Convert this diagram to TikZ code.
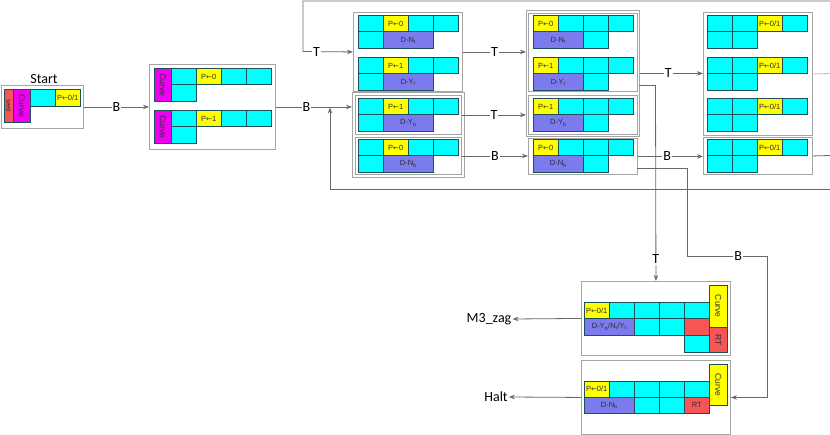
\documentclass[tikz,border=0pt]{standalone}
\usepackage{fontspec}
\usepackage{graphicx}
\usetikzlibrary{arrows.meta}
\setmainfont{Carlito}
\newfontfamily\cellff{Liberation Sans}
\newfontfamily\arrff{DejaVu Sans}
\definecolor{cyanc}{RGB}{0,255,255}
\definecolor{yelc}{RGB}{255,255,0}
\definecolor{magc}{RGB}{240,0,240}
\definecolor{purc}{RGB}{123,123,238}
\definecolor{redc}{RGB}{245,85,85}
\definecolor{cellline}{RGB}{30,80,90}
\definecolor{boxgray}{RGB}{165,165,165}
\definecolor{conngray}{RGB}{105,105,105}
\definecolor{lightconn}{RGB}{190,190,190}
\definecolor{celltext}{RGB}{45,45,55}
\tikzset{
  cellbase/.style={draw=cellline,line width=0.5pt,inner sep=0pt,text=celltext,font=\cellff\fontsize{7.5}{8}\selectfont},
  cy/.style={fill=cyanc},
  ye/.style={fill=yelc},
  ma/.style={fill=magc},
  pu/.style={fill=purc},
  re/.style={fill=redc},
  outbox/.style={draw=boxgray,line width=0.9pt,inner sep=0pt},
  conn/.style={draw=conngray,line width=0.8pt},
  lconn/.style={draw=lightconn,line width=0.8pt},
  arr/.style={conn,-{Stealth[length=6pt,width=4.5pt]}},
  lab/.style={fill=white,inner sep=1pt,font=\fontsize{14}{16}\selectfont},
  bigtext/.style={inner sep=1pt,font=\fontsize{14}{16}\selectfont}
}
\newcounter{cellno}
\newcommand\cellat[6]{\stepcounter{cellno}\node[cellbase,#1,minimum width=#4pt,minimum height=#5pt,anchor=north west,name=cell\arabic{cellno}] at (#2,#3) {#6};}
\newcommand\boxat[5]{\node[outbox,minimum width=#4pt,minimum height=#5pt,anchor=north west] (#1) at (#2,#3) {};}
\newcommand\rot[1]{\rotatebox{-90}{\fontsize{8.5}{9}\selectfont #1}}
\newcommand\la{{\arrff\fontsize{7}{8}\selectfont ←}}
% box 2 group
\newcommand\grpZero[2]{%
 \cellat{ma}{154}{#1}{17}{33}{\rot{Curve}}
 \cellat{cy}{171}{#1}{25}{16.5}{}
 \cellat{ye}{196}{#1}{25}{16.5}{P\la#2}
 \cellat{cy}{221}{#1}{25}{16.5}{}
 \cellat{cy}{246}{#1}{25}{16.5}{}
 \cellat{cy}{171}{#1+16.5}{25}{16.5}{}}
% column 1 group
\newcommand\grpOne[3]{%
 \cellat{cy}{358}{#1}{25}{16.5}{}
 \cellat{ye}{383}{#1}{25}{16.5}{P\la#2}
 \cellat{cy}{408}{#1}{25}{16.5}{}
 \cellat{cy}{433}{#1}{25}{16.5}{}
 \cellat{cy}{358}{#1+16.5}{25}{16.5}{}
 \cellat{pu}{383}{#1+16.5}{50}{16.5}{#3}}
% column 2 group
\newcommand\grpTwo[3]{%
 \cellat{ye}{533}{#1}{25}{16.5}{P\la#2}
 \cellat{cy}{558}{#1}{25}{16.5}{}
 \cellat{cy}{583}{#1}{25}{16.5}{}
 \cellat{cy}{608}{#1}{25}{16.5}{}
 \cellat{pu}{533}{#1+16.5}{50}{16.5}{#3}
 \cellat{cy}{583}{#1+16.5}{25}{16.5}{}}
% column 3 group
\newcommand\grpThree[1]{%
 \cellat{cy}{707}{#1}{25}{16.5}{}
 \cellat{cy}{732}{#1}{25}{16.5}{}
 \cellat{ye}{757}{#1}{25}{16.5}{P\la0/1}
 \cellat{cy}{782}{#1}{25}{16.5}{}
 \cellat{cy}{707}{#1+16.5}{25}{16.5}{}
 \cellat{cy}{732}{#1+16.5}{25}{16.5}{}}
\begin{document}
\begin{tikzpicture}[x=1pt,y=-1pt]
\useasboundingbox (0,0) rectangle (830,435);
% ---------- boxes ----------
\boxat{startbox}{1}{85}{82}{43}
\boxat{box2}{149}{64}{126}{85}
\boxat{c1top}{353}{12}{109}{79}
\boxat{c1bot}{352}{92}{112}{85}
\boxat{c1b3}{355}{95}{106}{39}
\boxat{c1b4}{355}{137}{106}{37}
\boxat{c2out}{526}{10}{113}{126}
\boxat{c2A}{528}{13}{109}{78}
\boxat{c2B}{528}{95}{109}{39}
\boxat{c2b4}{528}{138}{109}{36}
\boxat{c3top}{703}{12}{109}{123}
\boxat{c3b4}{703}{137}{109}{37}
\boxat{b1}{581}{281}{149}{74}
\boxat{b2}{581}{360}{149}{74}
% ---------- cells ----------
\cellat{re}{4}{89}{9}{33}{\rotatebox{-90}{\fontsize{6}{7}\selectfont seed}}
\cellat{ma}{13}{89}{17}{33}{\rot{Curve}}
\cellat{cy}{30}{89}{25}{17}{}
\cellat{ye}{55}{89}{25}{17}{P\la0/1}
\grpZero{68}{0}
\grpZero{110}{1}
\grpOne{15}{0}{D-N\textsubscript{t}}
\grpOne{57}{1}{D-Y\textsubscript{t}}
\grpOne{98}{1}{D-Y\textsubscript{b}}
\grpOne{139}{0}{D-N\textsubscript{b}}
\grpTwo{15}{0}{D-N\textsubscript{t}}
\grpTwo{57}{1}{D-Y\textsubscript{t}}
\grpTwo{98}{1}{D-Y\textsubscript{b}}
\grpTwo{139}{0}{D-N\textsubscript{b}}
\grpThree{15}
\grpThree{57}
\grpThree{98}
\grpThree{139}
% bottom box 1
\cellat{ye}{584}{302}{25}{16.5}{P\la0/1}
\cellat{cy}{609}{302}{25}{16.5}{}
\cellat{cy}{634}{302}{25}{16.5}{}
\cellat{cy}{659}{302}{25}{16.5}{}
\cellat{cy}{684}{302}{25}{16.5}{}
\cellat{ye}{709}{285}{18}{42}{\rot{Curve}}
\cellat{pu}{584}{318.5}{50}{16.5}{D-Y\textsubscript{b}/N\textsubscript{t}/Y\textsubscript{t}}
\cellat{cy}{634}{318.5}{25}{16.5}{}
\cellat{cy}{659}{318.5}{25}{16.5}{}
\cellat{re}{684}{318.5}{25}{16.5}{}
\cellat{re}{709}{327}{18}{25}{\rot{RT}}
\cellat{cy}{684}{335}{25}{17}{}
% bottom box 2
\cellat{ye}{584}{381}{25}{16}{P\la0/1}
\cellat{cy}{609}{381}{25}{16}{}
\cellat{cy}{634}{381}{25}{16}{}
\cellat{cy}{659}{381}{25}{16}{}
\cellat{cy}{684}{381}{25}{16}{}
\cellat{ye}{709}{364}{18}{41}{\rot{Curve}}
\cellat{pu}{584}{397}{50}{16}{D-N\textsubscript{b}}
\cellat{cy}{634}{397}{25}{16}{}
\cellat{cy}{659}{397}{25}{16}{}
\cellat{re}{684}{397}{25}{16}{RT}
% ---------- texts ----------
\node[bigtext] (starttxt) at (44,79) {Start};
\node[bigtext] (m3) at (489,319) {M3\_zag};
\node[bigtext] (halt) at (496,397) {Halt};
% ---------- coordinates ----------
\coordinate (topR) at (830,1);
\coordinate (topL) at (303,1);
\coordinate (topD) at (303,51.5);
\coordinate (loopR) at (830,189);
\coordinate (loopL) at (330,189);
\coordinate (loopU) at (330,107.5);
\coordinate (c2t) at (639,85);
\coordinate (tdrop) at (655.5,85);
\coordinate (c2b) at (637,168);
\coordinate (bA) at (687,168);
\coordinate (bB) at (687,256);
\coordinate (bC) at (767,256);
\coordinate (outA) at (830,73.5);
\coordinate (outB) at (830,155.5);
% ---------- connectors ----------
\draw[arr] (startbox) -- node[lab]{B} (box2);
\draw[arr] (box2.east) -- node[lab,pos=0.4]{B} (box2.east -| c1bot.west);
\draw[arr] (loopR) -- (loopL) -- (loopU);
\draw[arr] (topR) -- (topL) -- (topD) -- node[lab,pos=0.27]{T} (c1top.west);
\draw[arr] (c1top.east) -- node[lab]{T} (c1top.east -| c2out.west);
\draw[arr] (c1b3.east) -- node[lab]{T} (c1b3.east -| c2out.west);
\draw[arr] (c1b4.east) -- node[lab]{B} (c1b4.east -| c2b4.west);
\draw[arr] (c2out.east) -- node[lab,pos=0.45]{T} (c2out.east -| c3top.west);
\draw[arr] (c2b4.east) -- node[lab,pos=0.45]{B} (c2b4.east -| c3b4.west);
\draw[conn] (c2t) -- (tdrop);
\draw[arr] (tdrop) -- node[lab,pos=0.89]{T} (b1.north);
\draw[arr] (c2b) -- (bA) -- (bB) -- node[lab,pos=0.64]{B} (bC) |- (b2.east);
\draw[lconn] (c3top.east) -- (outA);
\draw[conn] (c3b4.east) -- (outB);
\draw[arr] (b1.west) -- (m3.east);
\draw[arr] (b2.west) -- (halt.east);
\end{tikzpicture}
\end{document}
